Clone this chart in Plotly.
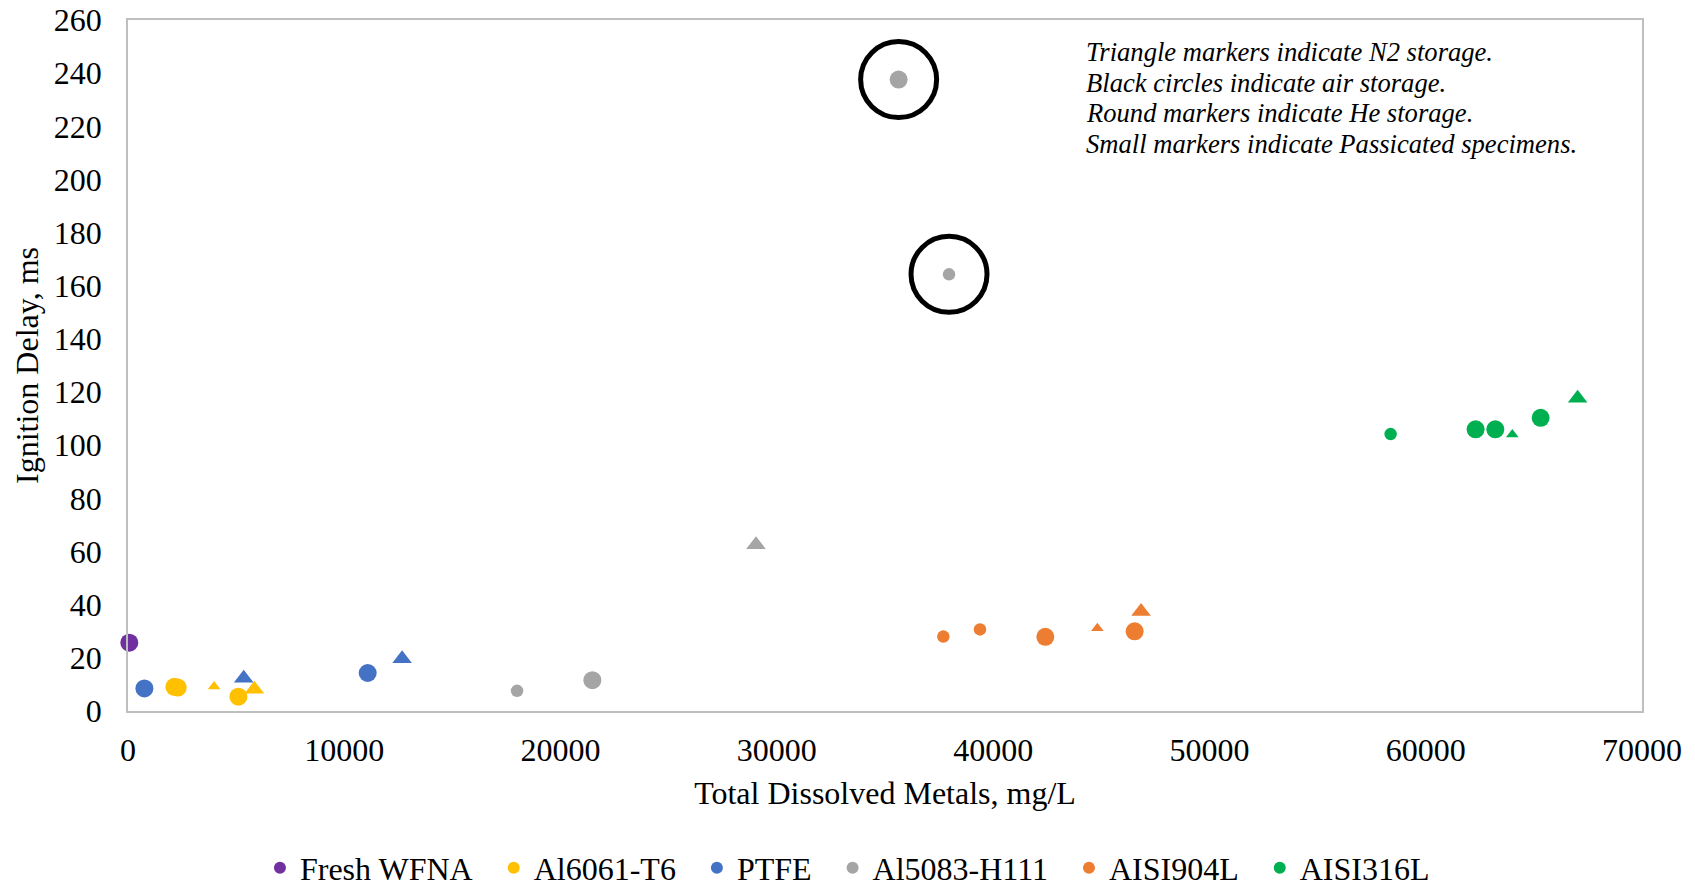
import plotly.graph_objects as go

# ---------------- data ----------------
series_names = ["Fresh WFNA", "Al6061-T6", "PTFE", "Al5083-H111", "AISI904L", "AISI316L"]
series_colors = ["#7030A0", "#FFC000", "#4472C4", "#A5A5A5", "#ED7D31", "#00B050"]

wfna_x = [60]
wfna_y = [25.7]
wfna_storage = ["He"]
wfna_passivated = [False]

al6061_x = [2145, 2300, 3980, 5104, 5844]
al6061_y = [9.1, 8.8, 9.2, 5.4, 8.2]
al6061_storage = ["He", "He", "N2", "He", "N2"]
al6061_passivated = [False, False, True, False, False]

ptfe_x = [758, 5350, 11083, 12672]
ptfe_y = [8.5, 12.3, 14.3, 19.7]
ptfe_storage = ["He", "N2", "He", "N2"]
ptfe_passivated = [False, False, False, False]

al5083_x = [17988, 21470, 29034, 35630, 37960]
al5083_y = [7.6, 11.6, 62.6, 237.6, 164.3]
al5083_storage = ["He", "He", "N2", "Air", "Air"]
al5083_passivated = [True, False, False, False, True]

aisi904_x = [37696, 39392, 42413, 44817, 46542, 46838]
aisi904_y = [28.0, 30.7, 27.9, 31.1, 30.0, 37.4]
aisi904_storage = ["He", "He", "He", "N2", "He", "N2"]
aisi904_passivated = [True, True, False, True, False, False]

aisi316_x = [58377, 62307, 63218, 64004, 65313, 67024]
aisi316_y = [104.2, 106.0, 106.0, 104.0, 110.3, 117.7]
aisi316_storage = ["He", "He", "He", "N2", "He", "N2"]
aisi316_passivated = [True, False, False, True, False, False]

note_lines = [
    "Triangle markers indicate N2 storage.",
    "Black circles indicate air storage.",
    "Round markers indicate He storage.",
    "Small markers indicate Passicated specimens.",
]

x_title = "Total Dissolved Metals, mg/L"
y_title = "Ignition Delay, ms"

# ---------------- figure ----------------
all_series = [
    (wfna_x, wfna_y, wfna_storage, wfna_passivated),
    (al6061_x, al6061_y, al6061_storage, al6061_passivated),
    (ptfe_x, ptfe_y, ptfe_storage, ptfe_passivated),
    (al5083_x, al5083_y, al5083_storage, al5083_passivated),
    (aisi904_x, aisi904_y, aisi904_storage, aisi904_passivated),
    (aisi316_x, aisi316_y, aisi316_storage, aisi316_passivated),
]

FONT = "Liberation Serif"
# page has an 8px body margin; figure is sized to fit inside the window
W, H = 1687, 880
ML, MR, MT, MB = 120, 53, 12, 177

fig = go.Figure()

air_x, air_y = [], []
n_series = len(series_names)
for k, (name, color, (xs, ys, st, pas)) in enumerate(zip(series_names, series_colors, all_series)):
    symbols = ["triangle-up" if s == "N2" else "circle" for s in st]
    sizes = []
    for s, p in zip(st, pas):
        if s == "N2":
            sizes.append(11 if p else 17)
        else:
            sizes.append(12.5 if p else 18)
    label = name + ("\u00a0\u00a0" if k < n_series - 1 else "")
    fig.add_trace(go.Scatter(
        x=xs, y=ys, mode="markers", name=label,
        marker=dict(color=color, symbol=symbols, size=sizes, opacity=1, line=dict(width=0)),
        cliponaxis=False,
    ))
    for xv, yv, s in zip(xs, ys, st):
        if s == "Air":
            air_x.append(xv)
            air_y.append(yv)

fig.add_trace(go.Scatter(
    x=air_x, y=air_y, mode="markers", showlegend=False, hoverinfo="skip",
    marker=dict(symbol="circle-open", size=76, color="black", opacity=1,
                line=dict(width=5, color="black")),
    cliponaxis=False,
))

axis_common = dict(
    showgrid=False, zeroline=False, showline=True, mirror=True,
    linecolor="#BFBFBF", linewidth=1.5, ticks="", automargin=False,
    ticklabeloverflow="allow",
    tickfont=dict(family=FONT, size=32, color="black"),
)

fig.update_layout(
    width=W, height=H,
    margin=dict(l=ML, r=MR, t=MT, b=MB),
    paper_bgcolor="white", plot_bgcolor="white",
    font=dict(family=FONT, color="black"),
    xaxis=dict(range=[0, 70000], dtick=10000, tickformat="d",
               ticklabelstandoff=10,
               title=dict(text=x_title, font=dict(family=FONT, size=32), standoff=14),
               **axis_common),
    yaxis=dict(range=[0, 260], dtick=20, ticklabelstandoff=18,
               title=dict(text=y_title, font=dict(family=FONT, size=32), standoff=6),
               **axis_common),
    legend=dict(orientation="h", xref="container", yref="container",
                x=0.4976, xanchor="center", y=0.0227, yanchor="middle",
                font=dict(family=FONT, size=32, color="black"),
                itemsizing="constant", traceorder="normal"),
    showlegend=True,
)

top_center_px = 44
line_gap_px = 30.6
plot_h = H - MT - MB
for i, line in enumerate(note_lines):
    yc = 1 - (top_center_px - MT + i * line_gap_px) / plot_h
    fig.add_annotation(
        xref="paper", yref="paper", x=0.6315, y=yc,
        xanchor="left", yanchor="middle", showarrow=False,
        text="<i>" + line + "</i>",
        font=dict(family=FONT, size=26.6, color="black"), align="left",
    )

fig.write_html("out.html")
